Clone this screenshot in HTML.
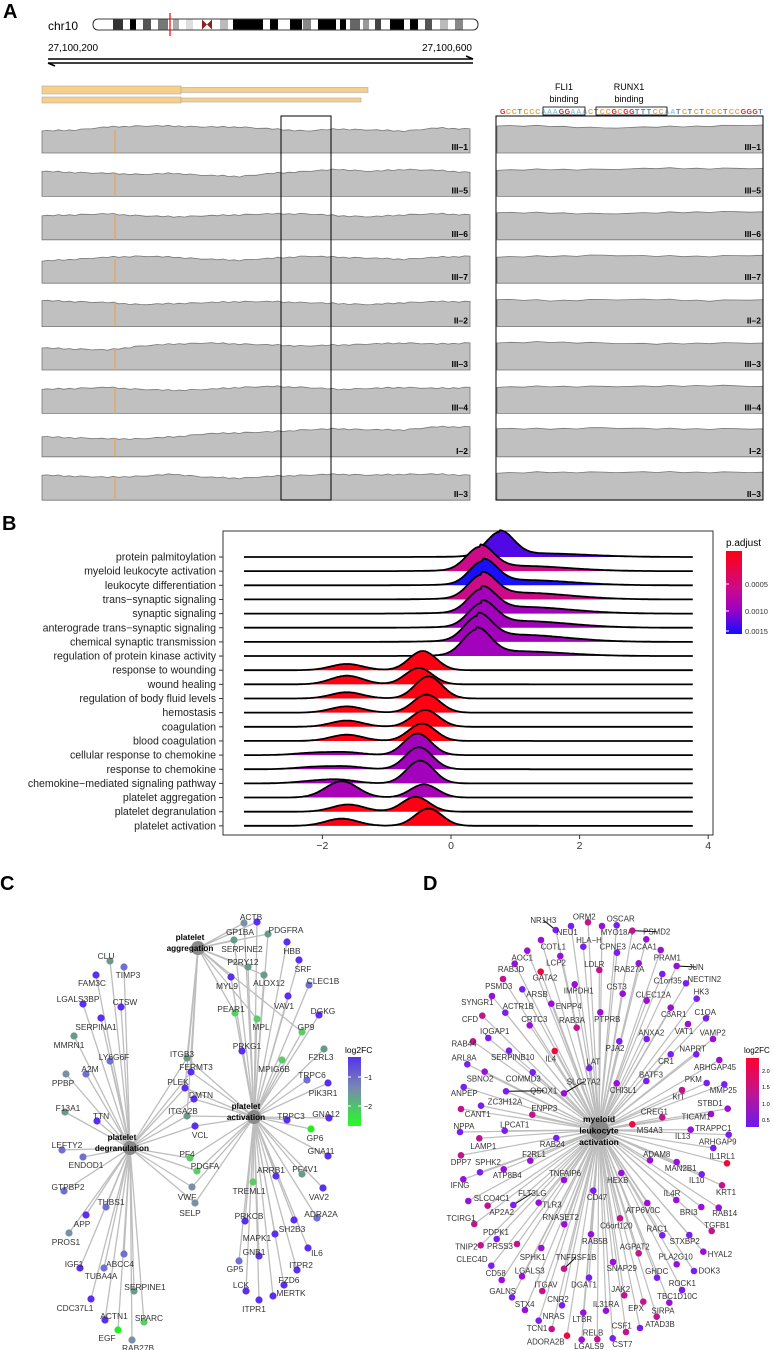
<!DOCTYPE html>
<html><head><meta charset="utf-8"><title>Figure</title>
<style>
html,body{margin:0;padding:0;background:#fff;}
svg{display:block;font-family:"Liberation Sans",sans-serif;}
</style></head>
<body>
<svg id="fig" width="774" height="1350" viewBox="0 0 774 1350" xmlns="http://www.w3.org/2000/svg">
<defs>
<linearGradient id="padjGrad" x1="0" y1="0" x2="0" y2="1">
<stop offset="0" stop-color="#ff0010"/><stop offset="0.45" stop-color="#cc0a8a"/><stop offset="0.72" stop-color="#9a00c8"/><stop offset="1" stop-color="#1010ff"/>
</linearGradient>
<linearGradient id="fcGradC" x1="0" y1="0" x2="0" y2="1">
<stop offset="0" stop-color="#5533ee"/><stop offset="0.45" stop-color="#7a88b0"/><stop offset="1" stop-color="#22ff22"/>
</linearGradient>
<linearGradient id="fcGradD" x1="0" y1="0" x2="0" y2="1">
<stop offset="0" stop-color="#ff0030"/><stop offset="0.5" stop-color="#c0158f"/><stop offset="1" stop-color="#6a1af0"/>
</linearGradient>
</defs>

<g>
<text x="3" y="18" font-size="20" font-weight="bold">A</text>
<text x="48" y="30" font-size="12">chr10</text>
<g>
<rect x="93" y="19" width="385" height="11" rx="5" fill="#fff" stroke="#000" stroke-width="0.8"/>
<rect x="113" y="19.5" width="10" height="10" fill="#333"/><rect x="130" y="19.5" width="6" height="10" fill="#000"/>
<rect x="143" y="19.5" width="8" height="10" fill="#555"/><rect x="158" y="19.5" width="10" height="10" fill="#777"/>
<rect x="173" y="19.5" width="6" height="10" fill="#aaa"/><rect x="186" y="19.5" width="7" height="10" fill="#ddd"/>
<path d="M202 19.5 L207 24.5 L212 19.5 L212 29.5 L207 24.5 L202 29.5 Z" fill="#8a2020"/>
<rect x="220" y="19.5" width="8" height="10" fill="#bbb"/><rect x="233" y="19.5" width="30" height="10" fill="#000"/>
<rect x="270" y="19.5" width="8" height="10" fill="#000"/><rect x="290" y="19.5" width="12" height="10" fill="#000"/>
<rect x="303" y="19.5" width="8" height="10" fill="#888"/><rect x="318" y="19.5" width="18" height="10" fill="#000"/>
<rect x="340" y="19.5" width="6" height="10" fill="#000"/><rect x="350" y="19.5" width="10" height="10" fill="#666"/>
<rect x="363" y="19.5" width="6" height="10" fill="#999"/><rect x="375" y="19.5" width="6" height="10" fill="#444"/>
<rect x="390" y="19.5" width="14" height="10" fill="#000"/><rect x="410" y="19.5" width="8" height="10" fill="#000"/>
<rect x="425" y="19.5" width="7" height="10" fill="#555"/><rect x="440" y="19.5" width="8" height="10" fill="#bbb"/>
<rect x="455" y="19.5" width="8" height="10" fill="#888"/>
<line x1="170" y1="13" x2="170" y2="36" stroke="#e00" stroke-width="1.2"/>
</g>
<text x="48" y="51" font-size="10">27,100,200</text>
<text x="472" y="51" font-size="10" text-anchor="end">27,100,600</text>
<g stroke="#000" stroke-width="1.6" fill="none">
<line x1="48" y1="59" x2="473" y2="59"/><path d="M466 56 L473 59"/>
<line x1="48" y1="63" x2="473" y2="63"/><path d="M55 66 L48 63"/>
</g>
<g stroke="#aaa" stroke-width="0.6" fill="#f8cf8a">
<rect x="42" y="86" width="139" height="8"/><rect x="181" y="87.5" width="187" height="5"/>
<rect x="42" y="97" width="139" height="6"/><rect x="181" y="98" width="180" height="4"/>
</g>
<text x="564" y="90" font-size="9" text-anchor="middle">FLI1</text>
<text x="564" y="102" font-size="9" text-anchor="middle">binding</text>
<text x="629" y="90" font-size="9" text-anchor="middle">RUNX1</text>
<text x="629" y="102" font-size="9" text-anchor="middle">binding</text>
<g id="seq"></g>
<rect x="543" y="107" width="42" height="8" fill="none" stroke="#000" stroke-width="0.8"/>
<rect x="596" y="107" width="71" height="8" fill="none" stroke="#000" stroke-width="0.8"/>
<g id="tracks"></g>
<rect x="281" y="116" width="50" height="384" fill="none" stroke="#000" stroke-width="1"/>
<rect x="496" y="116" width="267" height="384" fill="none" stroke="#000" stroke-width="1"/>
</g>

<g id="panelB">
<text x="2" y="530" font-size="20" font-weight="bold">B</text>
<rect x="223" y="531" width="490" height="304" fill="none" stroke="#333" stroke-width="1"/>
<g id="ridges"></g>
<g id="baxis"></g>
<text x="726" y="546" font-size="10">p.adjust</text>
<rect x="726" y="551" width="16" height="83" fill="url(#padjGrad)"/>
<g id="padjTicks"></g>
</g>

<g id="panelC">
<text x="0" y="890" font-size="20" font-weight="bold">C</text>
<g id="cEdges"></g><g id="cNodes"></g>
<text x="345" y="1053" font-size="8.5">log2FC</text>
<rect x="348" y="1057" width="13" height="69" fill="url(#fcGradC)"/>
<line x1="348" y1="1077" x2="351" y2="1077" stroke="#fff"/><line x1="358" y1="1077" x2="361" y2="1077" stroke="#fff"/>
<line x1="348" y1="1106" x2="351" y2="1106" stroke="#fff"/><line x1="358" y1="1106" x2="361" y2="1106" stroke="#fff"/>
<text x="364" y="1080" font-size="7">−1</text>
<text x="364" y="1109" font-size="7">−2</text>
</g>

<g id="panelD">
<text x="423" y="890" font-size="20" font-weight="bold">D</text>
<g id="dEdges"></g><g id="dNodes"></g>
<text x="744" y="1053" font-size="8">log2FC</text>
<rect x="746" y="1058" width="13" height="69" fill="url(#fcGradD)"/>
<text x="762" y="1073" font-size="5.5">2.0</text>
<text x="762" y="1089" font-size="5.5">1.5</text>
<text x="762" y="1106" font-size="5.5">1.0</text>
<text x="762" y="1122" font-size="5.5">0.5</text>
</g>
</svg>

<script>
const NS = "http://www.w3.org/2000/svg";
function mk(tag, attrs, parent){ const e=document.createElementNS(NS,tag); for(const k in attrs) e.setAttribute(k,attrs[k]); parent.appendChild(e); return e; }

const seqLetters = "GCCTCCCAAAGGAAACTCCGCGGTTTCCAATCTCTCCCTCCGGGT";
const baseColors = {G:"#e0202a",C:"#f0a040",T:"#3a88d0",A:"#8cc8e8"};
const seqG = document.getElementById('seq');
for (let i=0;i<seqLetters.length;i++){
  const t = mk('text',{x:(500+i*5.87).toFixed(1), y:114, 'font-size':7, 'font-weight':'bold', fill:baseColors[seqLetters[i]]}, seqG);
  
  
  t.textContent = seqLetters[i];
}

const trackNames = ["III\u20131","III\u20135","III\u20136","III\u20137","II\u20132","III\u20133","III\u20134","I\u20132","II\u20133"];
const leftCoverage = [
 [22,23,26,27,27,26,26,24,22,24,23,22,25,24],
 [25,24,23,22,23,21,20,23,25,27,25,27,26,24],
 [24,25,26,24,23,24,25,26,26,24,23,25,26,25],
 [22,24,26,27,26,24,23,25,27,26,25,24,26,27],
 [26,25,24,22,23,24,25,25,24,23,22,24,25,25],
 [22,21,20,24,26,27,26,25,24,25,26,27,26,27],
 [24,25,26,24,23,24,26,27,26,24,25,26,25,26],
 [20,19,18,18,20,23,24,25,27,28,27,27,30,30],
 [25,24,23,24,26,23,22,24,25,26,25,26,26,25]];
const rightCoverage = [
 [27,27,25,26,27,28],[26,27,27,28,28,28],[27,27,26,27,28,28],[26,27,28,27,27,28],
 [27,26,27,27,26,27],[27,28,27,26,27,27],[26,27,27,27,28,27],[28,28,29,28,28,28],[27,28,28,28,28,28]];
const wiggle = [0,0.8,-0.5,1.2,-0.9,0.4,-1.1,0.7,0.2,-0.6];
const tracksG = document.getElementById('tracks');
function trackPath(vals, x0, x1, base, sub){
  const n = vals.length; let d = `M${x0} ${base}`;
  const steps = (n-1)*sub;
  for(let s=0;s<=steps;s++){
    const f = s/sub, i=Math.min(n-2,Math.floor(f)), fr=f-i;
    const v = vals[i]*(1-fr)+vals[i+1]*fr + (sub>1?wiggle[s%wiggle.length]*0.6:0);
    d += ` L${(x0+(x1-x0)*s/steps).toFixed(1)} ${(base-v).toFixed(1)}`;
  }
  return d + ` L${x1} ${base} Z`;
}
trackNames.forEach((nm,k)=>{
  const base = 153 + k*43.4;
  const p1 = mk('path',{d:trackPath(leftCoverage[k],42,470,base,6), fill:"#c0c0c0", stroke:"#777", 'stroke-width':0.8}, tracksG);
  
  
  const o = mk('line',{x1:115,y1:base-leftCoverage[k][1],x2:115,y2:base,stroke:"#f0a040",'stroke-width':1}, tracksG);
  
  
  const p2 = mk('path',{d:trackPath(rightCoverage[k],497,763,base,4), fill:"#c0c0c0", stroke:"#777", 'stroke-width':0.8}, tracksG);
  
  
  const l1 = mk('text',{x:468,y:base-3,'font-size':8.5,'font-weight':'bold','text-anchor':'end'}, tracksG);
  
  
  l1.textContent = nm;
  const l2 = mk('text',{x:761,y:base-3,'font-size':8.5,'font-weight':'bold','text-anchor':'end'}, tracksG);
  
  
  l2.textContent = nm;
});

const terms = ["protein palmitoylation","myeloid leukocyte activation","leukocyte differentiation","trans\u2212synaptic signaling","synaptic signaling","anterograde trans\u2212synaptic signaling","chemical synaptic transmission","regulation of protein kinase activity","response to wounding","wound healing","regulation of body fluid levels","hemostasis","coagulation","blood coagulation","cellular response to chemokine","response to chemokine","chemokine\u2212mediated signaling pathway","platelet aggregation","platelet degranulation","platelet activation"];
const padj = [0.00135,0.0007,0.00152,0.0007,0.00105,0.00105,0.00105,0.00105,0.00003,0.00003,0.00003,0.00003,0.00003,0.00003,0.00105,0.00105,0.00105,0.001,0.00003,0.00003];
const mainX = [0.76,0.45,0.5,0.48,0.48,0.48,0.42,0.4,-0.44,-0.5,-0.35,-0.38,-0.4,-0.45,-0.52,-0.5,-0.48,-0.42,-0.55,-0.35];
const mainH = [1.0,0.95,0.95,0.95,0.95,0.95,1.0,1.05,0.8,0.68,0.92,0.75,0.7,0.72,0.9,0.92,0.95,0.55,0.62,0.72];
const sideX = [0,0,0,0,0,0,0,0,-1.62,-1.62,-1.62,-1.62,-1.62,-1.62,-1.6,-1.6,-1.7,-1.7,-1.6,-1.7];
const sideH = [0,0,0,0,0,0,0,0,0.26,0.36,0.26,0.26,0.26,0.26,0.1,0.1,0.12,0.68,0.3,0.3];
const farX = [0,0,0,0,0,0,0,0,0,0,0,0,0,0,-2.1,-2.1,-2.1,0,0,0];
const farH = [0,0,0,0,0,0,0,0,0,0,0,0,0,0,0.1,0.1,0.1,0,0,0];
const tailH = [0.15,0.22,0.22,0.28,0.28,0.28,0.3,0.2,0,0,0,0,0,0,0,0,0,0,0,0];
const xTicks = [-2,0,2,4];

const X0 = 451, XU = 64.3, ROW0 = 557, ROWSTEP = 14.15, HSCALE = 24;
const xs = v => X0 + v*XU;
const rowY = i => ROW0 + i*ROWSTEP;
function padjColor(p){
  const t = Math.max(0,Math.min(1,(p-0.00002)/0.00153));
  const stops=[[0,[255,0,16]],[0.45,[204,10,138]],[0.72,[154,0,200]],[1,[16,16,255]]];
  for(let i=0;i<stops.length-1;i++){ const a=stops[i],b=stops[i+1];
    if(t<=b[0]){ const f=(t-a[0])/(b[0]-a[0]); return `rgb(${a[1].map((c,j)=>Math.round(c+(b[1][j]-c)*f)).join(',')})`; } }
  return 'rgb(16,16,255)';
}
const g = (x,m,s)=>Math.exp(-0.5*((x-m)/s)**2);
const ridgesG = document.getElementById('ridges');
terms.forEach((term,i)=>{
  const base = rowY(i);
  let pts=[];
  for(let x=-3.22;x<=3.761;x+=0.02){
    let d = mainH[i]*g(x,mainX[i],0.21) + sideH[i]*g(x,sideX[i],0.25) + farH[i]*g(x,farX[i],0.3)
          + tailH[i]*g(x,mainX[i]+0.6,0.75)*(x>mainX[i]?1:0.4);
    pts.push([xs(x), base - d*HSCALE]);
  }
  const line = pts.map((p,j)=>(j?'L':'M')+p[0].toFixed(1)+' '+p[1].toFixed(1)).join(' ');
  const area = mk('path',{d: line+` L${pts[pts.length-1][0].toFixed(1)} ${base} L${pts[0][0].toFixed(1)} ${base} Z`, fill:padjColor(padj[i]), stroke:'none'}, ridgesG);
  
  
  const ln = mk('path',{d:line, fill:'none', stroke:'#000','stroke-width':1.8}, ridgesG);
  
  
});
const bax = document.getElementById('baxis');
terms.forEach((term,i)=>{
  const t = mk('text',{x:216,y:rowY(i)+3.5,'font-size':10.6,'text-anchor':'end',fill:'#222'}, bax);
  
  
  t.textContent = term;
  const tk = mk('line',{x1:219,y1:rowY(i),x2:223,y2:rowY(i),stroke:'#333','stroke-width':1}, bax);
  
  
});
xTicks.forEach(v=>{
  const tk = mk('line',{x1:xs(v),y1:835,x2:xs(v),y2:839,stroke:'#333','stroke-width':1}, bax);
  
  
  const t = mk('text',{x:xs(v),y:849,'font-size':10.5,'text-anchor':'middle',fill:'#333'}, bax);
  
  
  t.textContent = v<0 ? '\u2212'+Math.abs(v) : String(v);
});
const padjTickVals = [0.0005,0.0010,0.0015];
const padjTickY = [584,611,631];
const ptG = document.getElementById('padjTicks');
padjTickVals.forEach((v,i)=>{
  const t = mk('text',{x:745,y:padjTickY[i]+3,'font-size':7.5,fill:'#333'}, ptG);
  
  
  t.textContent = v.toFixed(4);
  const l = mk('line',{x1:726,y1:padjTickY[i],x2:729,y2:padjTickY[i],stroke:'#fff'}, ptG);
  
  
});

const cHubs = {g:[198,948,"platelet","aggregation"], a:[254,1117,"platelet","activation"], d:[130,1148,"platelet","degranulation"]};
const cCol = {b:"#5a2ff0",s:"#7070d0",y:"#7a8fa8",n:"#6a9a88",l:"#5ccc66",G:"#22ee22"};
const cGenes = [
["ACTB",257,922,251,917,"b","ga"],["GP1BA",244,923,240,932,"y","ga"],["PDGFRA",268,934,286,930,"n","ga"],
["SERPINE2",234,940,242,949,"n","ga"],["HBB",287,942,292,951,"b","a"],["P2RY12",248,967,243,962,"n","ga"],
["SRF",299,960,303,969,"b","a"],["ALOX12",264,975,269,983,"n","ga"],["MYL9",231,977,227,986,"b","ga"],
["CLEC1B",309,985,323,981,"s","a"],["VAV1",288,996,284,1006,"b","a"],["PEAR1",235,1013,231,1009,"l","ga"],
["MPL",257,1019,261,1027,"l","ga"],["DGKG",319,1015,323,1011,"b","a"],["GP9",302,1032,306,1027,"l","ga"],
["PRKG1",242,1051,247,1046,"b","a"],["F2RL3",324,1049,321,1057,"n","a"],["MPIG6B",282,1060,274,1069,"l","a"],
["TRPC6",307,1080,312,1075,"s","a"],["PIK3R1",328,1083,323,1093,"b","a"],["ITGB3",187,1058,182,1054,"n","gad"],
["FERMT3",191,1072,196,1067,"b","gad"],["PLEK",185,1088,178,1082,"b","gad"],["DMTN",194,1099,201,1095,"b","ad"],
["ITGA2B",187,1116,183,1111,"n","gad"],["VCL",195,1126,200,1135,"b","ad"],["TRPC3",287,1120,291,1116,"b","a"],
["GNA12",329,1118,326,1114,"b","a"],["GP6",311,1129,315,1138,"G","a"],["GNA11",328,1156,321,1151,"b","a"],
["PF4",190,1158,187,1154,"l","da"],["PDGFA",197,1171,205,1166,"l","da"],["ARRB1",276,1176,271,1170,"b","a"],
["PF4V1",302,1174,305,1169,"n","a"],["TREML1",253,1182,249,1191,"l","a"],["VAV2",323,1188,319,1197,"b","a"],
["VWF",192,1187,187,1197,"y","da"],["SELP",195,1203,190,1213,"y","da"],["ADRA2A",317,1218,321,1214,"s","a"],
["PRKCB",245,1221,249,1216,"b","a"],["SH2B3",294,1220,292,1229,"b","a"],["MAPK1",275,1234,257,1238,"b","a"],
["GNB1",259,1256,254,1252,"b","a"],["IL6",308,1248,317,1253,"b","a"],["GP5",239,1261,235,1269,"s","a"],
["ITPR2",297,1270,301,1265,"b","a"],["FZD6",284,1285,289,1280,"b","a"],["LCK",246,1291,241,1285,"b","a"],
["MERTK",273,1296,291,1293,"b","a"],["ITPR1",259,1300,254,1309,"b","a"],
["CLU",110,961,106,956,"n","d"],["TIMP3",124,967,128,975,"s","d"],["FAM3C",96,975,92,983,"b","d"],
["LGALS3BP",83,1004,78,999,"b","d"],["CTSW",121,1007,125,1002,"b","d"],["SERPINA1",101,1018,96,1027,"b","d"],
["MMRN1",74,1036,69,1045,"n","d"],["LY6G6F",110,1061,114,1057,"s","d"],["A2M",86,1074,90,1069,"s","d"],
["PPBP",66,1074,63,1083,"y","d"],["F13A1",65,1112,68,1108,"n","d"],["TTN",97,1121,101,1116,"b","d"],
["LEFTY2",62,1150,67,1145,"s","d"],["ENDOD1",83,1157,86,1165,"s","d"],["GTPBP2",64,1191,68,1187,"s","d"],
["THBS1",106,1207,111,1202,"s","d"],["APP",86,1215,82,1224,"b","d"],["PROS1",69,1233,66,1242,"y","d"],
["ABCC4",124,1254,120,1264,"s","d"],["IGF1",80,1268,74,1264,"b","d"],["TUBA4A",104,1268,101,1276,"s","d"],
["SERPINE1",134,1291,145,1287,"n","d"],["CDC37L1",91,1299,75,1308,"b","d"],["ACTN1",105,1320,114,1316,"b","d"],
["SPARC",144,1322,149,1318,"l","d"],["EGF",118,1330,107,1338,"G","d"],["RAB27B",132,1340,138,1348,"y","d"]];
const cE = document.getElementById('cEdges'), cN = document.getElementById('cNodes');
cGenes.forEach(gn=>{
  for(const h of gn[6]){
    const H=cHubs[h];
    const e = mk('line',{x1:H[0],y1:H[1],x2:gn[1],y2:gn[2],stroke:'#bdbdbd','stroke-width':1.3}, cE);
    
    
  }
});
Object.keys(cHubs).forEach(k=>{
  const H=cHubs[k];
  const c = mk('circle',{cx:H[0],cy:H[1],r:7,fill:'#8a8a8a'}, cN);
  
  
});
cGenes.forEach(gn=>{
  const c = mk('circle',{cx:gn[1],cy:gn[2],r:3.6,fill:cCol[gn[5]]}, cN);
  
  
  const t = mk('text',{x:gn[3],y:gn[4]+3,'font-size':8.4,'text-anchor':'middle',fill:'#333'}, cN);
  
  
  t.textContent = gn[0];
});
Object.keys(cHubs).forEach(k=>{
  const H=cHubs[k];
  const t1 = mk('text',{x:H[0]-8,y:H[1]-8,'font-size':8.2,'font-weight':'bold','text-anchor':'middle'}, cN);
  
  
  t1.textContent = H[2];
  const t2 = mk('text',{x:H[0]-8,y:H[1]+3,'font-size':8.2,'font-weight':'bold','text-anchor':'middle'}, cN);
  
  
  t2.textContent = H[3];
});

const dCol = {p:"#9a10d8",m:"#c0158f",r:"#ee0a3a",v:"#7a1ff0"};
const dGenes = [
["NR1H3",460,240,497,270,"v",1],["NEU1",532,277,543,258,"v",0],["ORM2",583,230,594,247,"m",0],["OSCAR",692,236,680,256,"v",0],
["MYO18A",680,277,636,258,"p",0],["PSMD2",800,275,727,272,"m",1],["HLA\u2212H",597,300,580,320,"v",0],["COTL1",490,320,453,300,"p",0],
["CPNE3",668,320,681,338,"v",0],["ACAA1",762,320,769,298,"p",0],["PRAM1",832,353,812,330,"p",0],["AOC1",397,353,412,332,"p",0],
["LCP2",498,368,511,348,"p",0],["LDLR",613,372,628,390,"m",0],["RAB27A",718,388,746,370,"p",0],["JUN",918,381,860,378,"p",1],
["RAB3D",363,388,374,371,"p",0],["GATA2",465,413,452,395,"r",0],["C1orf35",833,422,817,402,"v",0],["NECTIN2",943,418,888,430,"v",0],
["PSMD3",326,438,339,417,"m",0],["ARSB",441,463,397,448,"v",0],["IMPDH1",566,452,554,433,"p",0],["CST3",680,440,698,461,"p",0],
["CLEC12A",790,464,770,482,"p",0],["HK3",934,455,920,476,"v",0],["SYNGR1",262,487,306,468,"p",0],["ACTR1B",385,498,346,518,"v",0],
["ENPP4",536,498,484,491,"p",0],["C3AR1",851,522,842,503,"p",0],["C1QA",946,517,948,535,"v",0],["CFD",240,537,277,527,"m",0],
["CRTC3",433,537,419,556,"p",0],["RAB3A",546,541,560,563,"m",0],["PTPRB",652,537,631,517,"p",0],["VAT1",882,573,894,552,"p",0],
["VAMP2",968,578,969,597,"p",0],["IQGAP1",314,574,295,594,"v",0],["ANXA2",784,578,770,597,"v",0],["RAB44",222,611,249,604,"m",0],
["SERPINB10",368,652,357,632,"v",0],["IL4",482,656,494,633,"r",0],["PJA2",675,624,688,604,"v",0],["NAPRT",908,626,919,643,"v",0],
["ARL8A",222,653,232,673,"v",0],["LAT",610,665,598,684,"v",0],["CR1",828,664,842,643,"v",0],["ARHGAP45",975,681,988,660,"p",0],
["SBNO2",270,716,284,695,"p",0],["COMMD3",400,716,428,697,"v",0],["BATF3",783,704,769,723,"v",0],["SLC27A2",581,725,522,760,"p",1],
["CHI3L1",700,750,680,730,"p",0],["PKM",910,718,950,729,"v",0],["MMP25",1000,751,1003,733,"v",0],["ANPEP",223,760,221,741,"v",0],
["QSOX1",461,752,348,754,"v",1],["KIT",866,770,876,750,"m",0],["ZC3H12A",345,785,273,797,"v",0],["ENPP3",463,805,427,824,"m",0],
["STBD1",960,790,1013,806,"p",0],["CANT1",263,822,213,807,"m",0],["CREG1",793,815,817,832,"m",0],["TICAM1",918,830,963,822,"p",0],
["NPPA",222,858,210,876,"v",0],["LPCAT1",374,854,344,872,"v",0],["MS4A3",779,870,727,853,"r",0],["TRAPPC1",970,865,902,869,"p",0],
["IL13",878,889,1016,884,"v",0],["LAMP1",280,918,268,895,"m",0],["RAB24",487,912,499,894,"v",0],["ARHGAP9",983,905,970,924,"v",0],
["ADAM8",800,943,780,961,"p",0],["DPP7",213,967,213,946,"m",0],["SPHK2",294,967,341,988,"p",0],["F2RL1",432,942,421,962,"p",0],
["IL1RL1",997,948,1011,970,"r",0],["MAN2B1",872,985,860,966,"p",0],["ATP8B4",352,1006,270,997,"v",0],["IFNG",210,1035,220,1018,"p",0],
["TNFAIP6",525,1000,522,1020,"p",0],["HEXB",683,1021,694,999,"p",0],["IL10",920,1021,935,1003,"v",0],["KRT1",1008,1056,996,1036,"m",0],
["SLCO4C1",305,1075,235,1083,"p",0],["FLT3LG",427,1059,370,1095,"v",1],["CD47",621,1072,610,1052,"v",0],["IL4R",846,1060,859,1080,"p",0],
["AP2A2",335,1116,293,1097,"m",0],["TLR3",486,1094,446,1088,"p",0],["ATP6V0C",759,1110,772,1089,"p",0],["BRI3",896,1116,934,1101,"p",0],
["RAB14",1004,1119,986,1103,"p",0],["TCIRG1",213,1135,253,1152,"m",0],["RNASET2",512,1131,523,1153,"p",0],["C6orf120",679,1157,690,1135,"m",0],
["RAC1",801,1166,817,1186,"v",0],["TGFB1",981,1156,965,1173,"m",0],["PDPK1",318,1177,320,1197,"v",0],["RAB5B",615,1204,603,1183,"p",0],
["STXBP2",884,1203,898,1185,"v",0],["TNIP2",229,1220,272,1216,"m",0],["PRSS3",330,1218,381,1212,"m",0],["AGPAT2",734,1220,746,1240,"m",0],
["HYAL2",990,1243,940,1235,"p",0],["SPHK1",428,1251,454,1224,"p",0],["TNFRSF1B",558,1252,522,1286,"m",1],["PLA2G10",857,1250,860,1273,"p",0],
["CLEC4D",246,1258,304,1277,"v",0],["SNAP29",695,1284,669,1266,"p",0],["DOK3",958,1292,912,1293,"v",0],["GHDC",800,1293,801,1313,"v",0],
["CD58",317,1300,335,1320,"p",0],["LGALS3",419,1292,396,1309,"p",0],["DGAT1",582,1334,597,1313,"v",0],["ITGAV",468,1334,457,1353,"m",0],
["ROCK1",877,1330,876,1350,"v",0],["JAK2",692,1348,703,1366,"m",0],["GALNS",338,1353,366,1372,"v",0],["CNR2",504,1378,516,1396,"v",0],
["TBC1D10C",862,1369,838,1388,"p",0],["STX4",404,1392,405,1410,"p",0],["IL31RA",648,1392,648,1412,"p",0],["EPX",738,1404,760,1385,"m",0],
["SIRPA",819,1412,800,1430,"m",0],["LTBR",577,1438,580,1418,"p",0],["NRAS",491,1428,446,1442,"v",0],["TCN1",441,1465,485,1467,"m",0],
["CSF1",695,1457,708,1476,"m",0],["ATAD3B",810,1452,750,1464,"v",0],["RELB",609,1478,622,1498,"m",0],["ADORA2B",467,1505,531,1487,"r",0],
["LGALS9",597,1519,575,1499,"p",0],["CST7",697,1512,668,1495,"v",0]];
const DX = v => 390 + v/3, DY = v => 840 + v/3;
const dHub = [599,1130];
const dE = document.getElementById('dEdges'), dN = document.getElementById('dNodes');
dGenes.forEach(gn=>{
  const e = mk('line',{x1:dHub[0],y1:dHub[1],x2:DX(gn[3]).toFixed(1),y2:DY(gn[4]).toFixed(1),stroke:'#bdbdbd','stroke-width':1.2}, dE);
  
  
});
const hubC = mk('circle',{cx:dHub[0],cy:dHub[1],r:10,fill:'#8a8a8a'}, dN);


dGenes.forEach(gn=>{
  if(gn[6]){
    const c = mk('line',{x1:DX(gn[1]).toFixed(1),y1:DY(gn[2]).toFixed(1),x2:DX(gn[3]).toFixed(1),y2:DY(gn[4]).toFixed(1),stroke:'#000','stroke-width':1}, dN);
    
    
  }
  const c = mk('circle',{cx:DX(gn[3]).toFixed(1),cy:DY(gn[4]).toFixed(1),r:3.3,fill:dCol[gn[5]]}, dN);
  
  
  const t = mk('text',{x:DX(gn[1]).toFixed(1),y:(DY(gn[2])+2.8).toFixed(1),'font-size':7.9,'text-anchor':'middle',fill:'#333'}, dN);
  
  
  t.textContent = gn[0];
});
["myeloid","leukocyte","activation"].forEach((w,i)=>{
  const t = mk('text',{x:599,y:1122+i*11.5,'font-size':8.5,'font-weight':'bold','text-anchor':'middle'}, dN);
  
  
  t.textContent = w;
});
</script>
</body></html>
